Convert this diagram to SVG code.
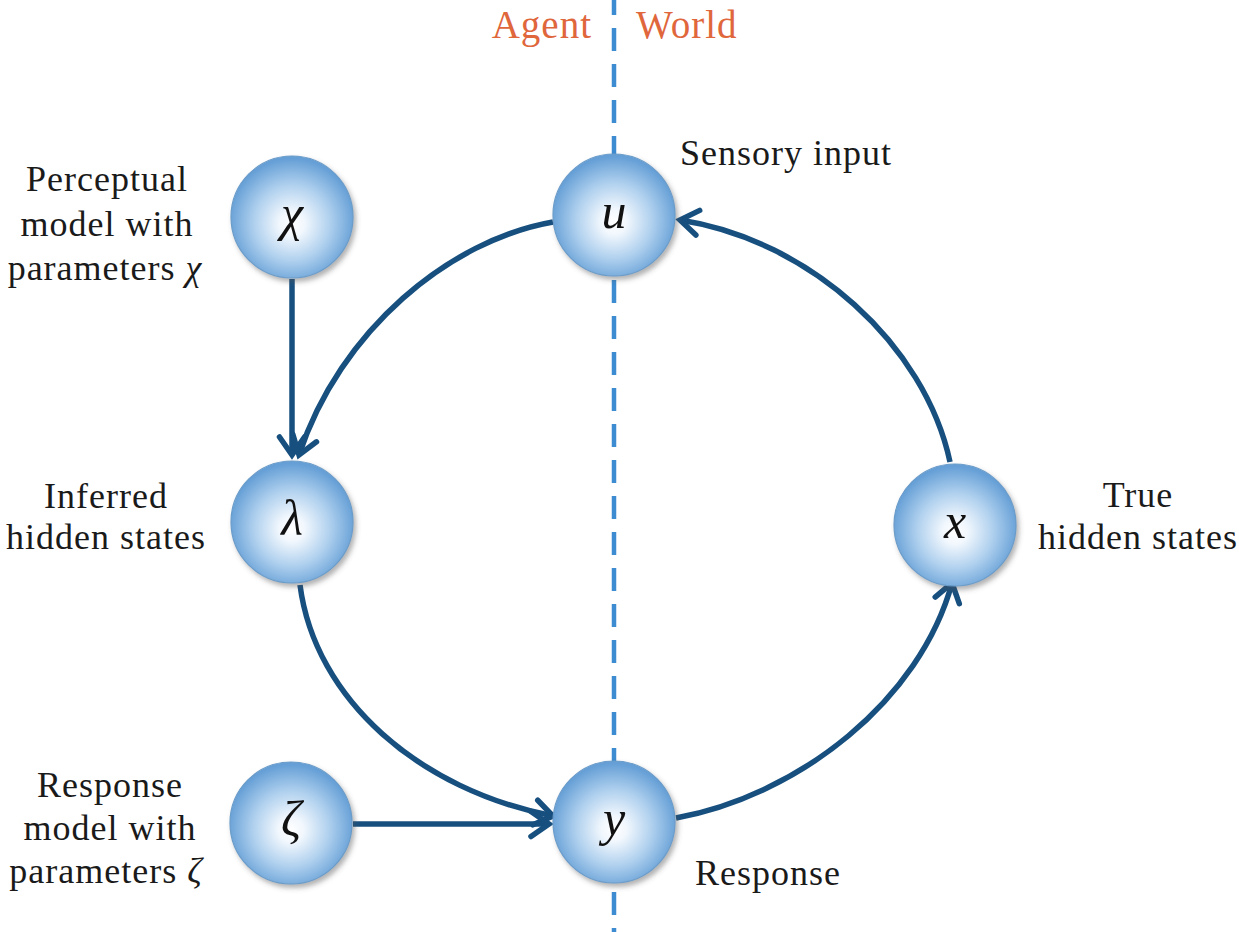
<svg xmlns="http://www.w3.org/2000/svg" width="1239" height="932" viewBox="0 0 1239 932">
  <defs>
    <style>
      .lbl { font-family: "Liberation Serif", "Times New Roman", serif; font-size: 36px; fill: #1a1a1a; letter-spacing: 1px; }
      .side { font-family: "Liberation Serif", "Times New Roman", serif; font-size: 39px; fill: #e0663c; letter-spacing: 1px; }
      .sym { font-family: "Liberation Serif", "Times New Roman", serif; font-style: italic; font-size: 50px; fill: #111; text-anchor: middle; }
      .ball { fill: url(#ballFill); stroke: #6b9cc9; stroke-width: 1.2; filter: url(#shadow); }
      .edge { fill: none; stroke: #174f7f; stroke-width: 5.5; marker-end: url(#arr); }
      .divider { stroke: #3d8bd0; stroke-width: 4.5; stroke-dasharray: 23 13; }
    </style>
    <radialGradient id="ballFill" cx="50%" cy="54%" r="52%" fx="50%" fy="56%">
      <stop offset="0%" stop-color="#ffffff"/>
      <stop offset="20%" stop-color="#f1f7fd"/>
      <stop offset="60%" stop-color="#afd0ee"/>
      <stop offset="100%" stop-color="#659fd6"/>
    </radialGradient>
    <filter id="shadow" x="-20%" y="-20%" width="150%" height="150%">
      <feDropShadow dx="2.5" dy="3.5" stdDeviation="2.5" flood-color="#555" flood-opacity="0.45"/>
    </filter>
    <marker id="arr" markerUnits="userSpaceOnUse" markerWidth="44" markerHeight="44" viewBox="-22 -22 44 44" refX="0" refY="0" orient="auto">
      <path d="M-18,-12.5 L0,0 L-18,12.5" fill="none" stroke="#174f7f" stroke-width="5.5" stroke-linecap="round" stroke-linejoin="miter"/>
    </marker>
  </defs>

  <rect width="1239" height="932" fill="#ffffff"/>

  <!-- agent / world boundary -->
  <line class="divider" x1="614" y1="0" x2="614" y2="932" stroke-dashoffset="8"/>
  <text class="side" x="592" y="38" text-anchor="end">Agent</text>
  <text class="side" x="636" y="38">World</text>

  <!-- connectors -->
  <g id="connectors">
    <path class="edge" d="M292,279 L292,455"/>
    <path class="edge" d="M553,222 C450,240 340,330 299,455"/>
    <path class="edge" d="M300,585 C315,700 420,790 553,816"/>
    <path class="edge" d="M353,824 L549,824"/>
    <path class="edge" d="M676,818 C800,795 920,700 952,583"/>
    <path class="edge" d="M950,462 C925,345 810,240 680,220"/>
  </g>

  <!-- nodes -->
  <g id="node-chi">
    <circle class="ball" cx="292" cy="217" r="61"/>
    <text class="sym" x="292" y="230">χ</text>
  </g>
  <g id="node-u">
    <circle class="ball" cx="614" cy="215" r="61"/>
    <text class="sym" x="614" y="228">u</text>
  </g>
  <g id="node-lambda">
    <circle class="ball" cx="292" cy="522" r="61"/>
    <text class="sym" x="292" y="535">λ</text>
  </g>
  <g id="node-x">
    <circle class="ball" cx="955" cy="525" r="61"/>
    <text class="sym" x="955" y="538">x</text>
  </g>
  <g id="node-zeta">
    <circle class="ball" cx="291" cy="823" r="61"/>
    <text class="sym" x="291" y="836">ζ</text>
  </g>
  <g id="node-y">
    <circle class="ball" cx="614" cy="822" r="61"/>
    <text class="sym" x="614" y="835">y</text>
  </g>

  <!-- labels -->
  <g id="label-perceptual" class="lbl" text-anchor="middle">
    <text x="107" y="191">Perceptual</text>
    <text x="107" y="236">model with</text>
    <text x="105" y="280">parameters <tspan font-style="italic">χ</tspan></text>
  </g>
  <g id="label-inferred" class="lbl" text-anchor="middle">
    <text x="106" y="508">Inferred</text>
    <text x="106" y="549">hidden states</text>
  </g>
  <g id="label-response-model" class="lbl" text-anchor="middle">
    <text x="110" y="797">Response</text>
    <text x="110" y="840">model with</text>
    <text x="106" y="883">parameters <tspan font-style="italic">ζ</tspan></text>
  </g>
  <g id="label-sensory" class="lbl">
    <text x="680" y="165">Sensory input</text>
  </g>
  <g id="label-true" class="lbl" text-anchor="middle">
    <text x="1138" y="507">True</text>
    <text x="1138" y="549">hidden states</text>
  </g>
  <g id="label-response" class="lbl">
    <text x="695" y="885">Response</text>
  </g>
</svg>
